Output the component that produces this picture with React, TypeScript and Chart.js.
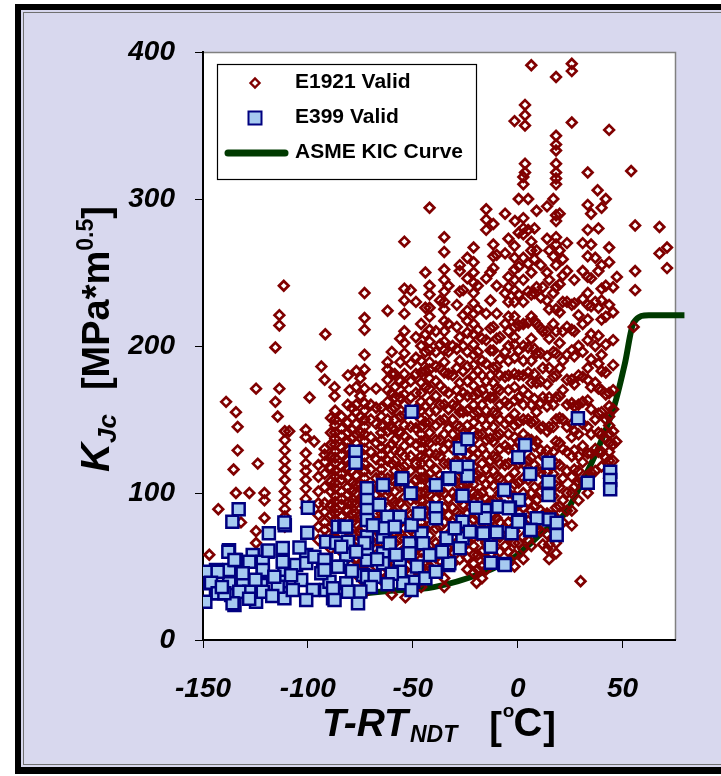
import { useEffect, useRef } from "react";
import { Chart, registerables } from "chart.js";

Chart.register(...registerables);

// ---------- axis ticks ----------
const xTickValues = [-150, -100, -50, 0, 50];
const yTickValues = [0, 100, 200, 300, 400];

// ---------- ASME KIC curve ----------
const asmeT = [-78, -62, -40, -17, -1.4, 11.5, 22.5, 32, 40, 46.4, 51.1, 55.3, 62.5, 79.5];
const asmeK = [31, 33.3, 36, 45.6, 56.5, 72.8, 86, 111, 136, 161, 188, 216, 221, 221];

// ---------- E399 Valid (T-RTndt, KJc) ----------
const e399Cold: [number, number][] = [
  [-133, 89], [-136, 80.5], [-100, 90], [-111, 78], [-118.6, 72.6], [-112, 62.6], [-137.6, 61],
  [-126.3, 57.8], [-119.2, 60], [-100.8, 57.8], [-143.8, 47.6], [-137.5, 47.6], [-131.1, 46.5],
  [-121.5, 46.5], [-111.2, 46.5], [-105.6, 51], [-148.6, 46.5], [-147, 38.6], [-137.5, 38.6],
  [-131, 39.7], [-122.3, 37.4], [-112.8, 39.7], [-103.2, 40.8], [-143.8, 31.8], [-136.6, 30.6],
  [-127.9, 32.9], [-112.8, 31.8], [-97.6, 34], [-100.8, 27.2], [-148.9, 26], [-135, 23.8],
  [-124.7, 26], [-111.2, 28.4], [-121.5, 32.9], [-121.5, 53.3], [-127.9, 53.3], [-134.3, 54.4],
  [-112, 53.3], [-100.8, 52.4], [-114.4, 36.3], [-107.2, 34], [-132.7, 32.9], [-100.3, 73],
  [-96.9, 56.7], [-111.2, 80], [-118.8, 60.8], [-121.5, 47.6], [-137.9, 60], [-135, 54.4],
  [-143, 46.5], [-146.2, 39], [-143, 31.8], [-135.9, 25], [-131.1, 45.4], [-139.8, 31.8],
  [-116, 43], [-108, 44], [-104, 63], [-125, 41], [-141, 36], [-128, 28], [-117, 30],
];
const e399Mid: [number, number][] = [
  [-77.3, 128], [-77.3, 120.6], [-85.7, 77], [-82.6, 77], [-91.3, 66.9], [-86.5, 66], [-80.9, 66.9],
  [-81.7, 57.8], [-92.8, 47.6], [-84, 49.9], [-73.7, 44.2], [-81.7, 38.6], [-88, 28.4], [-76.1, 25],
  [-80.9, 32.9], [-91.3, 34], [-91.3, 54.4], [-89.7, 39.7], [-50.6, 155.3], [-64.2, 105.4],
  [-55.4, 109.5], [-51, 99.8], [-71.8, 103.2], [-71.8, 95.2], [-71.8, 88.4], [-71.8, 81.6],
  [-71.8, 70.3], [-71.8, 54.4], [-71.8, 43], [-81.7, 77.1], [-84.1, 63.5], [-85.7, 49.9],
  [-64.2, 70.3], [-64.2, 59], [-64.2, 52.2], [-68.2, 43], [-92.1, 54.4], [-93.6, 45.4],
  [-88, 35.2], [-87.3, 27.2], [-92.1, 47.6], [-56.2, 83.9], [-62.1, 83.9], [-63.4, 76],
  [-58.6, 77.1], [-56.2, 52.2], [-56.2, 46.5], [-49.8, 39.7], [-54.6, 38.6], [-50.6, 34],
  [-51.5, 65.8], [-51.5, 59], [-45.9, 72.6], [-45.1, 65.8], [-41.9, 57.8], [-55, 110], [-50.6, 78.2],
  [-61, 65.8], [-71.8, 62], [-70, 36], [-73, 66], [-67, 55], [-60, 45], [-58, 58], [-48, 50],
  [-44, 42], [-47, 86], [-69, 78], [-66, 92], [-77, 60], [-79, 47], [-62, 38], [-75, 33],
];
const e399Warm: [number, number][] = [
  [-39, 105.4], [-33.1, 109.5], [-27.6, 130.4], [-23.9, 136.5], [-23.9, 117.9], [-23.9, 111.6],
  [-29.1, 117.9], [-26.3, 98.2], [-6.4, 102], [3.5, 132.7], [0.3, 124.3], [5.9, 112.9], [0.6, 95.2],
  [-15.6, 88.4], [-15.6, 82.8], [-9.2, 90.7], [-3.7, 90.2], [9.1, 82.8], [-26.3, 80.5], [-26.3, 69.2],
  [-33.9, 69.2], [-27.6, 62.4], [-22.8, 73.7], [-16.4, 72.6], [-10, 73.3], [-2.9, 72.6], [5.9, 74.8],
  [-12.8, 63.5], [-12.8, 52.6], [-6.4, 51.7], [-39, 89.6], [-39, 82.8], [-39, 46.5], [-33.1, 51],
  [-32.6, 110], [-32.6, 52.2], [-36, 60], [1.1, 81.6], [28.7, 150.8], [14.7, 120.6], [14.7, 107.7],
  [14.7, 98.6], [33.4, 107], [44.1, 114.5], [44.1, 108.8], [44.1, 102.5], [-4.2, 89.6], [15.1, 82],
  [18.6, 79.8], [18.6, 71.4], [0.3, 80.5], [6.2, 74.8], [-6.1, 51], [-20, 90], [-30, 76],
];

// ---------- E1921 Valid: scattered points ----------
const e1921Scatter: [number, number][] = [
  [-147, 58], [-142.7, 89], [-139, 162], [-134.3, 155], [-134.3, 100], [-133.5, 145], [-133.5, 129],
  [-135.4, 116], [-131.9, 80], [-124.7, 171], [-123.9, 120], [-124.7, 74], [-124.7, 66], [-120.7, 100],
  [-120.7, 95], [-120.7, 83], [-127.9, 100], [-115.5, 199], [-115.5, 162], [-113.6, 221], [-113.6, 214],
  [-113.6, 171], [-114.4, 152], [-111.5, 241], [-99.2, 165], [-91.7, 208], [-93.6, 186], [-92, 177],
  [-87.3, 172], [-87.3, 166], [-80.9, 180], [-76.9, 183], [-80.1, 170], [-108.9, 142], [-97, 135],
  [-53.5, 29], [-19.6, 39], [47.3, 247], [47, 135], [55.3, 213], [56, 251], [56, 238], [56, 282],
  [54.1, 319], [67.6, 281], [71.2, 267], [67.6, 263], [71.2, 253], [38.1, 306], [-1.3, 285],
  [30, 40], [-35, 36], [-60, 31],
];

// ---------- E1921 Valid: dense columns [T, K values] ----------
const e1921ColdColumns: [number, number[]][] = [
  [-111, [142, 136, 129, 122, 116, 109, 101, 95, 89, 84, 77]],
  [-101, [143, 138, 127, 120, 115, 109, 103, 96, 90]],
  [-95, [119, 111, 101, 93, 85, 77, 68]],
  [-92, [130, 126, 121, 113, 104, 93, 87, 80, 75, 69]],
  [-89, [151, 141, 133, 125, 117, 108, 101, 92, 85, 77, 69, 62]],
  [-87, [156, 150, 146, 141, 137, 133, 128, 124, 120, 115, 111, 107, 103, 98, 94, 90, 86, 82, 78, 74, 70]],
  [-84, [152, 144, 139, 131, 126, 118, 113, 109, 101, 96, 92, 84, 79, 72, 66, 60]],
  [-81, [160, 148, 141, 135, 130, 122, 117, 110, 104, 99, 93, 88, 81, 75, 68]],
  [-79, [158, 151, 143, 137, 128, 121, 115, 107, 101, 93, 86, 80, 72, 65, 58, 52]],
  [-77, [172, 160, 155, 147, 140, 134, 126, 119, 112, 106, 100, 93, 86, 79, 72, 66, 60, 54, 48]],
];
const e1921MidColumns: [number, number[]][] = [
  [-75, [178, 166, 152, 141, 128, 118, 106, 95, 85, 73, 63, 52, 42]],
  [-73, [236, 219, 211, 194, 184, 171, 161, 156, 150, 145, 140, 135, 130, 125, 120, 115, 110, 105, 100, 96, 91, 86, 81, 76, 71, 66, 61, 56, 51, 46, 41, 36, 32]],
  [-70, [160, 150, 138, 128, 116, 104, 92, 80, 68, 56, 44]],
  [-67.5, [171, 158, 147, 134, 123, 110, 99, 86, 75, 62, 50]],
  [-65, [158, 152, 146, 141, 136, 131, 126, 121, 116, 111, 106, 101, 96, 91, 86, 81, 76, 71, 66, 61, 56, 51, 46, 41]],
  [-62, [224, 189, 184, 177, 170, 162, 150, 142, 130, 122, 110, 102, 90, 82, 70, 62, 50, 42]],
  [-60, [196, 181, 168, 157, 144, 133, 120, 109, 96, 85, 72, 61, 48]],
  [-58.6, [181, 172, 165, 158, 150, 143, 136, 129, 122, 115, 108, 101, 94, 87, 80, 73, 66, 59, 52]],
  [-56, [205, 189, 176, 165, 152, 141, 128, 117, 104, 93, 80, 69, 56, 44]],
  [-54, [271, 239, 231, 222, 210, 202, 195, 181, 174, 167, 160, 153, 146, 139, 132, 125, 118, 111, 104, 97, 90, 83, 76, 69, 62, 55, 48, 41]],
  [-51, [238, 188, 176, 165, 155, 145, 135, 125, 115, 105, 95, 85, 75, 65, 55, 45]],
  [-48.5, [230, 206, 192, 181, 168, 157, 144, 133, 120, 109, 96, 85, 72, 61, 48, 40]],
  [-46, [215, 200, 190, 182, 175, 168, 162, 156, 150, 145, 140, 135, 130, 125, 120, 115, 110, 105, 100, 95, 90, 85, 80, 75, 70, 65, 60, 55, 50, 45, 40, 36]],
  [-44, [250, 226, 208, 196, 183, 172, 159, 148, 135, 124, 111, 100, 87, 76, 63, 51]],
  [-42, [294, 241, 235, 226, 220, 211, 203, 197, 189, 184, 178, 171, 162, 155, 148, 141, 134, 127, 120, 113, 106, 99, 92, 85, 78, 71, 64, 57, 50]],
  [-39, [210, 196, 186, 176, 166, 156, 146, 136, 126, 116, 106, 96, 86, 76, 66, 56]],
  [-37, [231, 201, 185, 173, 160, 149, 136, 125, 112, 101, 88, 77, 64, 54]],
];
const e1921WarmColumns: [number, number[]][] = [
  [-35, [274, 264, 252, 245, 237, 230, 225, 217, 210, 203, 197, 189, 182, 170, 160, 150, 140, 130, 120, 110, 100, 90, 80, 70, 60, 50, 42]],
  [-33, [241, 215, 196, 181, 168, 157, 144, 133, 120, 109, 96, 85, 72, 62]],
  [-31, [200, 180, 160, 150, 140, 130, 120, 110, 100, 90, 80, 70, 60, 52]],
  [-29, [228, 213, 198, 185, 170, 159, 146, 135, 122, 111, 98, 87, 74, 62]],
  [-27.6, [255, 251, 237, 206, 190, 175, 165, 155, 145, 135, 125, 115, 105, 95, 85, 75, 65, 55]],
  [-26, [238, 221, 200, 183, 168, 155, 140, 129, 116, 105, 92, 81, 68]],
  [-24, [260, 246, 224, 217, 209, 196, 186, 176, 166, 156, 146, 136, 126, 116, 106, 96, 86, 76, 66, 56, 48]],
  [-21, [267, 257, 250, 243, 236, 229, 222, 215, 208, 201, 194, 187, 180, 173, 166, 160, 154, 148, 142, 136, 130, 124, 118, 112, 106, 100, 94, 88, 82, 76, 70, 64, 58, 52, 46]],
  [-19, [241, 225, 211, 196, 183, 168, 155, 140, 127, 112, 99, 84, 71, 58, 48]],
  [-17, [205, 190, 180, 170, 160, 150, 140, 130, 120, 110, 100, 90, 80, 70, 60, 50, 42]],
  [-15, [293, 286, 279, 246, 222, 204, 188, 176, 166, 156, 146, 136, 126, 116, 106, 96, 86, 76, 66, 56, 48]],
  [-13, [250, 231, 212, 197, 180, 165, 150, 137, 122, 109, 94, 81, 68, 58]],
  [-11.6, [283, 269, 261, 253, 213, 197, 185, 175, 165, 155, 145, 135, 125, 115, 105, 95, 85, 75, 65]],
  [-10, [262, 241, 222, 205, 186, 171, 154, 139, 124, 111, 96, 83, 70]],
  [-8.5, [206, 191, 180, 170, 160, 150, 140, 130, 120, 110, 100, 90, 80, 70, 60, 52]],
  [-6, [290, 263, 236, 215, 196, 179, 162, 147, 132, 119, 104, 91, 76, 64]],
  [-4.4, [273, 247, 240, 230, 220, 210, 200, 190, 180, 170, 160, 150, 140, 130, 120, 110, 100, 90, 80, 70, 60, 52]],
  [-1.5, [353, 268, 260, 252, 245, 238, 230, 220, 213, 206, 201, 192, 181, 172, 163, 154, 146, 138, 130, 122, 114, 106, 98, 90, 82, 74, 66, 58, 50]],
  [0.5, [300, 277, 254, 235, 214, 197, 180, 165, 148, 135, 120, 107, 92, 79, 66]],
];
const e1921HotColumns: [number, number[]][] = [
  [2.7, [315, 310, 287, 280, 276, 260, 245, 230, 215, 200, 190, 180, 170, 160, 150, 140, 130, 120, 110, 100, 90, 80, 70, 62, 55]],
  [3.5, [364, 357, 350, 324, 318]],
  [5, [300, 279, 256, 237, 216, 199, 182, 167, 150, 137, 122, 109, 94, 81, 68]],
  [6.5, [391, 271, 265, 250, 235, 220, 205, 190, 175, 160, 148, 136, 124, 112, 100, 88, 76, 64]],
  [8, [280, 259, 236, 217, 198, 181, 164, 149, 132, 119, 104, 91, 78]],
  [9, [292, 265, 240, 215, 195, 175, 155, 135, 115, 95, 75]],
  [11, [255, 233, 212, 195, 176, 161, 144, 129, 114, 101, 88, 74]],
  [12, [240, 210, 185, 165, 145, 125, 105, 85, 65]],
  [14, [295, 273, 250, 231, 210, 193, 174, 159, 142, 129, 114, 101, 86, 72, 62]],
  [15, [265, 245, 225, 205, 185, 165, 145, 125, 105, 85, 65, 55]],
  [17, [300, 261, 236, 215, 196, 179, 160, 145, 128, 113, 98, 85, 70]],
  [18.3, [383, 343, 337, 333, 324, 318, 314, 310, 289, 285, 274, 269, 255, 240, 225, 210, 195, 180, 165, 150, 135, 120, 105, 90, 75, 66, 59]],
  [20, [290, 265, 242, 223, 202, 185, 166, 151, 134, 119, 104, 91, 78]],
  [21.5, [259, 248, 230, 210, 190, 170, 150, 130, 110, 95, 80]],
  [23.5, [270, 251, 230, 213, 194, 177, 160, 145, 128, 115, 100, 88]],
  [25.8, [392, 387, 352, 228, 211, 197, 177, 161, 147, 138, 125, 111, 100, 88, 78]],
  [27, [245, 229, 210, 193, 174, 159, 142, 129, 116, 104]],
  [29, [221, 200, 180, 160, 140, 125, 115, 107, 95]],
  [31, [270, 251, 232, 215, 196, 179, 162, 147, 132, 121, 108]],
  [33.4, [318, 296, 279, 261, 247, 236, 228, 218, 204, 185, 177, 163, 145, 127, 112, 100]],
  [35, [290, 269, 246, 227, 208, 191, 172, 157, 140, 127, 114]],
  [37, [260, 230, 200, 175, 150, 130, 115]],
  [38.5, [280, 251, 226, 207, 188, 171, 154, 141, 128]],
  [40, [294, 255, 239, 231, 218, 194, 183, 170, 155, 140, 128, 118]],
  [42, [300, 241, 220, 201, 182, 167, 150, 137, 124]],
  [43.6, [347, 267, 257, 228, 168, 159, 152, 146, 140, 134, 128, 122, 116, 110]],
  [45.5, [240, 223, 204, 187, 170, 157, 142, 133, 122]],
];

// ---------- styles ----------
const FONT = '"Liberation Sans", Arial, sans-serif';
const LAVENDER = "#d8d8ee";
const RED = "#800000";
const BLUE_FILL = "#a6caf0";
const NAVY = "#000080";
const GREEN = "#003a00";

const toPts = (arr: [number, number][]) => arr.map(([x, y]) => ({ x, y }));
const colsToPts = (cols: [number, number[]][]) =>
  cols.flatMap(([t, ks]) => ks.map((k) => ({ x: t, y: k })));

type Part = { text: string; font: string; dy: number; gap?: number };

function drawRich(ctx: CanvasRenderingContext2D, parts: Part[], startX: number, baseY: number) {
  let x = startX;
  for (const p of parts) {
    x += p.gap || 0;
    ctx.font = p.font;
    ctx.fillText(p.text, x, baseY + p.dy);
    x += ctx.measureText(p.text).width;
  }
}
function richWidth(ctx: CanvasRenderingContext2D, parts: Part[]) {
  let w = 0;
  for (const p of parts) {
    ctx.font = p.font;
    w += (p.gap || 0) + ctx.measureText(p.text).width;
  }
  return w;
}

const decorPlugin = {
  id: "decor",
  beforeDraw(chart: any) {
    const { ctx, chartArea: a } = chart;
    ctx.save();
    ctx.fillStyle = "#ffffff";
    ctx.fillRect(0, 0, 721, 776);
    ctx.fillStyle = "#000000";
    ctx.fillRect(15, 4, 720, 770);
    ctx.fillStyle = LAVENDER;
    ctx.fillRect(21, 10, 720, 757);
    ctx.strokeStyle = "#707070";
    ctx.lineWidth = 1;
    ctx.strokeRect(23.5, 12.5, 720, 752);
    ctx.fillStyle = "#ffffff";
    ctx.fillRect(a.left, a.top, a.right - a.left, a.bottom - a.top);
    ctx.strokeStyle = "#808080";
    ctx.lineWidth = 1.5;
    ctx.beginPath();
    ctx.moveTo(a.left, a.top + 0.5);
    ctx.lineTo(a.right + 0.5, a.top + 0.5);
    ctx.lineTo(a.right + 0.5, a.bottom);
    ctx.stroke();
    ctx.restore();
  },
  afterDraw(chart: any) {
    const { ctx } = chart;
    ctx.save();
    // legend
    ctx.fillStyle = "#ffffff";
    ctx.fillRect(217, 64, 260, 116);
    ctx.strokeStyle = "#000000";
    ctx.lineWidth = 1.2;
    ctx.strokeRect(217.5, 64.5, 259, 115);
    ctx.strokeStyle = RED;
    ctx.lineWidth = 2.4;
    ctx.beginPath();
    ctx.moveTo(250.5, 83);
    ctx.lineTo(255, 78.5);
    ctx.lineTo(259.5, 83);
    ctx.lineTo(255, 87.5);
    ctx.closePath();
    ctx.stroke();
    ctx.fillStyle = BLUE_FILL;
    ctx.fillRect(248.5, 111.5, 13, 13);
    ctx.strokeStyle = NAVY;
    ctx.lineWidth = 2;
    ctx.strokeRect(248.5, 111.5, 13, 13);
    ctx.strokeStyle = GREEN;
    ctx.lineWidth = 7;
    ctx.lineCap = "round";
    ctx.beginPath();
    ctx.moveTo(228, 153);
    ctx.lineTo(285, 153);
    ctx.stroke();
    ctx.fillStyle = "#000000";
    ctx.textBaseline = "middle";
    ctx.font = `bold 21px ${FONT}`;
    ctx.fillText("E1921 Valid", 295, 82);
    ctx.fillText("E399 Valid", 295, 117);
    ctx.fillText("ASME KIC Curve", 295, 152);

    // y title
    ctx.textBaseline = "alphabetic";
    const yParts: Part[] = [
      { text: "K", font: `italic bold 40px ${FONT}`, dy: 0 },
      { text: "Jc", font: `italic bold 26px ${FONT}`, dy: 7 },
      { text: "[MPa*m", font: `bold 38px ${FONT}`, dy: 0, gap: 24 },
      { text: "0.5", font: `bold 23px ${FONT}`, dy: -16 },
      { text: "]", font: `bold 38px ${FONT}`, dy: 0 },
    ];
    const yw = richWidth(ctx, yParts);
    ctx.save();
    ctx.translate(109, 339);
    ctx.rotate(-Math.PI / 2);
    drawRich(ctx, yParts, -yw / 2, 0);
    ctx.restore();

    // x title
    const xParts: Part[] = [
      { text: "T-RT", font: `italic bold 39px ${FONT}`, dy: 0 },
      { text: "NDT", font: `italic bold 23px ${FONT}`, dy: 6, gap: 2 },
      { text: "[", font: `bold 38px ${FONT}`, dy: 3, gap: 32 },
      { text: "o", font: `bold 19px ${FONT}`, dy: -19, gap: 1 },
      { text: "C", font: `bold 40px ${FONT}`, dy: 0, gap: -1 },
      { text: "]", font: `bold 38px ${FONT}`, dy: 3, gap: 1 },
    ];
    drawRich(ctx, xParts, 322, 736);
    ctx.restore();
  },
};

export default function App() {
  const ref = useRef<HTMLCanvasElement | null>(null);
  useEffect(() => {
    if (!ref.current) return;
    const tickFont = { family: FONT, size: 28, style: "italic" as const, weight: "bold" as const };
    const chart = new Chart(ref.current, {
      type: "scatter",
      data: {
        datasets: [
          {
            label: "E399 Valid",
            data: [...toPts(e399Cold), ...toPts(e399Mid), ...toPts(e399Warm)],
            pointStyle: "rect",
            pointRadius: 8.5,
            backgroundColor: BLUE_FILL,
            borderColor: NAVY,
            borderWidth: 2.5,
          },
          {
            label: "E1921 Valid",
            data: [
              ...toPts(e1921Scatter),
              ...colsToPts(e1921ColdColumns),
              ...colsToPts(e1921MidColumns),
              ...colsToPts(e1921WarmColumns),
              ...colsToPts(e1921HotColumns),
            ],
            pointStyle: "rectRot",
            pointRadius: 4.8,
            backgroundColor: "rgba(0,0,0,0)",
            borderColor: RED,
            borderWidth: 2.7,
          },
          {
            label: "ASME KIC Curve",
            data: asmeT.map((t, i) => ({ x: t, y: asmeK[i] })),
            showLine: true,
            pointRadius: 0,
            borderColor: GREEN,
            borderWidth: 6,
            cubicInterpolationMode: "monotone",
            clip: false,
          } as any,
        ],
      },
      options: {
        responsive: false,
        animation: false,
        events: [],
        layout: { padding: { top: 52, right: 46, left: 0, bottom: 0 } },
        plugins: { legend: { display: false }, tooltip: { enabled: false }, title: { display: false } },
        scales: {
          x: {
            type: "linear",
            min: -150,
            max: 75,
            afterBuildTicks: (s: any) => {
              s.ticks = xTickValues.map((v) => ({ value: v }));
            },
            afterFit: (s: any) => {
              s.height = 136;
            },
            ticks: { font: tickFont, color: "#000", padding: 24, maxRotation: 0 },
            grid: { drawOnChartArea: false, drawTicks: true, tickLength: 8, color: "#000", lineWidth: 1 },
            border: { display: true, color: "#000", width: 2 },
          },
          y: {
            type: "linear",
            min: 0,
            max: 400,
            afterBuildTicks: (s: any) => {
              s.ticks = yTickValues.map((v) => ({ value: v }));
            },
            afterFit: (s: any) => {
              s.width = 203;
            },
            ticks: { font: tickFont, color: "#000", padding: 20 },
            grid: { drawOnChartArea: false, drawTicks: true, tickLength: 8, color: "#000", lineWidth: 1 },
            border: { display: true, color: "#000", width: 2 },
          },
        },
      },
      plugins: [decorPlugin],
    });
    return () => chart.destroy();
  }, []);
  return (
    <div style={{ position: "fixed", left: 0, top: 0, width: 721, height: 776 }}>
      <canvas ref={ref} width={721} height={776} style={{ display: "block" }} />
    </div>
  );
}
